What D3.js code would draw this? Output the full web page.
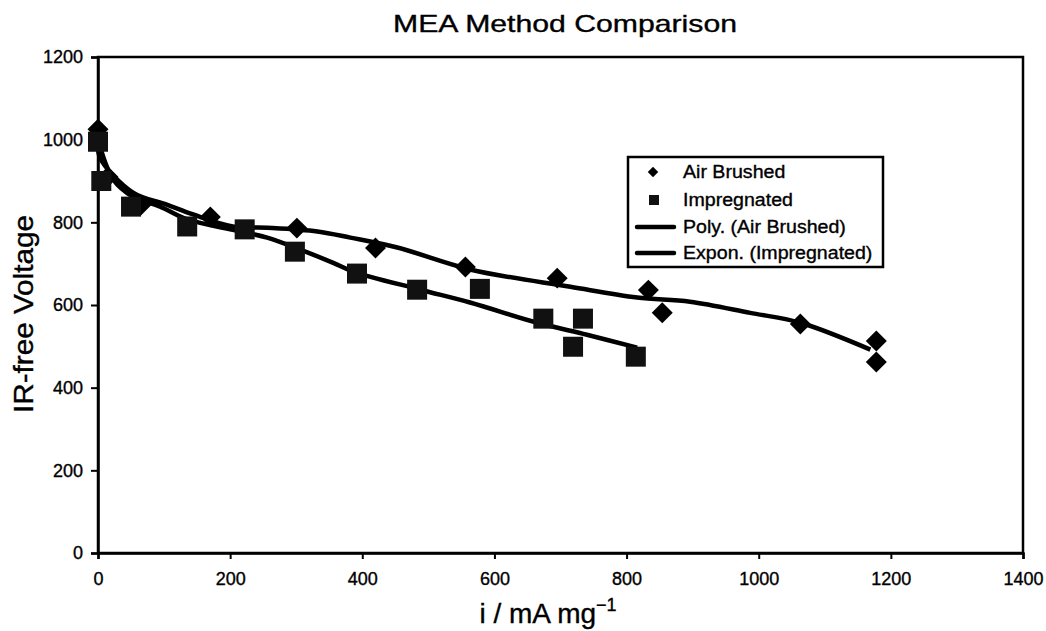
<!DOCTYPE html>
<html>
<head>
<meta charset="utf-8">
<script src="https://cdn.jsdelivr.net/npm/d3@7/dist/d3.min.js"></script>
<style>
  body { margin: 0; background: #fff; }
  text { font-family: "Liberation Sans", Arial, sans-serif; fill: #000; stroke: #000; stroke-width: 0.35px; }
</style>
</head>
<body>
<script>
// data
var airX = [0, 15, 65, 170, 301, 420, 556, 695, 833, 854, 1063, 1178, 1178];
var airY = [1025, 910, 842, 813, 786, 738, 692, 665, 636, 581, 554, 513, 462];
var impX = [0, 5, 50, 135, 222, 298, 392, 483, 578, 674, 734, 719, 814];
var impY = [995, 900, 838, 790, 783, 729, 676, 637, 639, 567, 567, 499, 475];
// trend lines
var polyX = [0, 3, 53, 104, 144, 204, 256, 332, 382, 453, 563, 715, 816, 896, 987, 1063, 1169];
var polyY = [1000, 957, 872, 843, 819, 790, 787, 778, 763, 739, 686, 644, 618, 608, 581, 557, 492];
var expX = [0, 23, 53, 94, 135, 204, 256, 306, 356, 386, 488, 563, 665, 740, 816];
var expY = [1000, 904, 862, 838, 807, 782, 763, 734, 702, 681, 637, 606, 557, 528, 497];
var xTicks = [0, 200, 400, 600, 800, 1000, 1200, 1400];
var yTicks = [0, 200, 400, 600, 800, 1000, 1200];
var legendLabels = ["Air Brushed", "Impregnated", "Poly. (Air Brushed)", "Expon. (Impregnated)"];

var W = 1046, H = 631;
var mLeft = 98, mRight = 1023, mTop = 57, mBottom = 553;

var svg = d3.select("body").append("svg")
  .attr("width", W).attr("height", H);

var x = d3.scaleLinear().domain([0, 1400]).range([mLeft, mRight]);
var y = d3.scaleLinear().domain([0, 1200]).range([mBottom, mTop]);

svg.append("text")
  .attr("x", 565).attr("y", 32)
  .attr("text-anchor", "middle")
  .attr("textLength", 344).attr("lengthAdjust", "spacingAndGlyphs")
  .style("font-size", "24px")
  .text("MEA Method Comparison");

// frame
svg.append("rect")
  .attr("x", mLeft).attr("y", mTop)
  .attr("width", mRight - mLeft).attr("height", mBottom - mTop)
  .attr("fill", "none").attr("stroke", "#000").attr("stroke-width", 2.5);

var xAxis = svg.append("g")
  .attr("transform", "translate(0," + mBottom + ")")
  .call(d3.axisBottom(x).tickValues(xTicks).tickSize(6).tickPadding(13).tickFormat(d3.format("d")));
var yAxis = svg.append("g")
  .attr("transform", "translate(" + mLeft + ",0)")
  .call(d3.axisLeft(y).tickValues(yTicks).tickSize(7).tickPadding(8).tickFormat(d3.format("d")));
[xAxis, yAxis].forEach(function(g) {
  g.select(".domain").attr("stroke-width", 2.5);
  g.selectAll(".tick line").attr("stroke-width", 2);
  g.selectAll("text").style("font-size", "18px").style("font-family", "Liberation Sans, Arial, sans-serif");
});

// trend lines
var line = d3.line().x(function(d) { return x(d[0]); }).y(function(d) { return y(d[1]); })
  .curve(d3.curveCatmullRom);
svg.append("path")
  .datum(d3.zip(polyX, polyY))
  .attr("d", line)
  .attr("fill", "none").attr("stroke", "#000").attr("stroke-width", 4.5);
svg.append("path")
  .datum(d3.zip(expX, expY))
  .attr("d", line)
  .attr("fill", "none").attr("stroke", "#000").attr("stroke-width", 4.5);

// markers
var diamond = d3.symbol().type(d3.symbolDiamond2).size(280);
svg.selectAll(".air")
  .data(d3.zip(airX, airY))
  .enter().append("path")
  .attr("class", "air")
  .attr("d", diamond)
  .attr("transform", function(d) { return "translate(" + x(d[0]) + "," + y(d[1]) + ")"; })
  .attr("fill", "#000");

svg.selectAll(".imp")
  .data(d3.zip(impX, impY))
  .enter().append("rect")
  .attr("class", "imp")
  .attr("x", function(d) { return x(d[0]) - 10; })
  .attr("y", function(d) { return y(d[1]) - 10; })
  .attr("width", 20).attr("height", 20)
  .attr("fill", "#111");

// legend
var lg = svg.append("g").attr("transform", "translate(628,157)");
lg.append("rect")
  .attr("width", 255).attr("height", 110)
  .attr("fill", "#fff").attr("stroke", "#000").attr("stroke-width", 2.5);
var rowY = [15, 43, 70, 96];
lg.append("g")
  .attr("transform", "translate(55,0) scale(1.12,1)")
  .selectAll(".lbl")
  .data(legendLabels)
  .enter().append("text")
  .attr("class", "lbl")
  .attr("x", 0)
  .attr("y", function(d, i) { return rowY[i] + 6; })
  .style("font-size", "17.5px")
  .text(function(d) { return d; });
lg.append("path")
  .attr("d", d3.symbol().type(d3.symbolDiamond2).size(70))
  .attr("transform", "translate(25," + rowY[0] + ")");
lg.append("rect")
  .attr("x", 21).attr("y", rowY[1] - 5).attr("width", 10).attr("height", 10)
  .attr("fill", "#111");
[2, 3].forEach(function(i) {
  lg.append("line")
    .attr("x1", 9).attr("x2", 46)
    .attr("y1", rowY[i]).attr("y2", rowY[i])
    .attr("stroke", "#000").attr("stroke-width", 4.5).attr("stroke-linecap", "round");
});

// axis titles
svg.append("text")
  .attr("transform", "translate(33,314) rotate(-90)")
  .attr("text-anchor", "middle")
  .attr("textLength", 198).attr("lengthAdjust", "spacingAndGlyphs")
  .style("font-size", "28px")
  .text("IR-free Voltage");

var xl = svg.append("text")
  .attr("x", 548).attr("y", 623)
  .attr("text-anchor", "middle")
  .style("font-size", "28px");
xl.append("tspan").text("i / mA mg");
xl.append("tspan").attr("dy", -12).style("font-size", "18px").text("\u22121");
</script>
</body>
</html>
